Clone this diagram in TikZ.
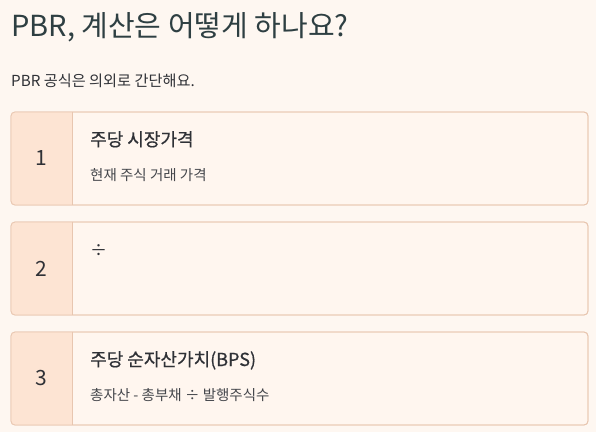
\documentclass[tikz,border=0pt]{standalone}
\usepackage{fontspec}
\setmainfont{Noto Sans CJK KR}
\newfontfamily\headfont[FakeBold=0.6]{Noto Sans CJK KR}
\definecolor{bgpaper}{HTML}{FEF7F1}
\definecolor{cardfill}{HTML}{FFF6EF}
\definecolor{numfill}{HTML}{FDE4D3}
\definecolor{cardline}{HTML}{E8C6B0}
\definecolor{titleink}{HTML}{2E3F42}
\definecolor{bodyink}{HTML}{2F3136}
\definecolor{subink}{HTML}{45474C}
\tikzset{
  card/.style={draw=cardline, line width=0.8pt, rounded corners=4pt, minimum width=577pt, minimum height=93pt, inner sep=0pt},
  numtext/.style={font=\fontsize{21}{25}\selectfont, text=bodyink},
  headtext/.style={anchor=base west, inner sep=0pt, font=\headfont\fontsize{18}{21}\selectfont, text=bodyink},
  subtext/.style={anchor=base west, inner sep=0pt, font=\fontsize{14.5}{17}\selectfont, text=subink}
}
\begin{document}
\begin{tikzpicture}[x=1pt,y=-1pt]
    % background
    \fill[bgpaper] (0,0) rectangle (596,432);
    \useasboundingbox (0,0) rectangle (596,432);

    \node[anchor=base west, inner sep=0pt, font=\fontsize{29}{34}\selectfont, text=titleink] (title) at (11,36) {PBR, 계산은 어떻게 하나요?};
    \node[anchor=base west, inner sep=0pt, font=\fontsize{15.2}{18}\selectfont, text=bodyink] (intro) at (11,86) {PBR 공식은 의외로 간단해요.};

    % cards
    \foreach \n/\y in {1/158.5, 2/268.5, 3/378.5} {
      \node[card, fill=cardfill] (card\n) at (299.5,\y) {};
      \begin{scope}
        \clip[rounded corners=4pt] (card\n.north west) rectangle (card\n.south east);
        \fill[numfill] (card\n.north west) rectangle ([xshift=62pt]card\n.south west);
      \end{scope}
      \node[card] at (card\n) {};
      \draw[cardline, line width=0.8pt] ([xshift=62pt]card\n.north west) -- ([xshift=62pt]card\n.south west);
      \node[numtext] (num\n) at ([xshift=31pt]card\n.west) {\n};
    }

    \node[headtext] (head1) at (90,146) {주당 시장가격};
    \node[subtext] (sub1) at (90,180) {현재 주식 거래 가격};
    \node[headtext, font=\fontsize{17}{20}\selectfont] (head2) at (90,256) {÷};
    \node[headtext] (head3) at (90,366) {주당 순자산가치(BPS)};
    \node[subtext] (sub3) at (90,400) {총자산 - 총부채 ÷ 발행주식수};

\end{tikzpicture}
\end{document}
